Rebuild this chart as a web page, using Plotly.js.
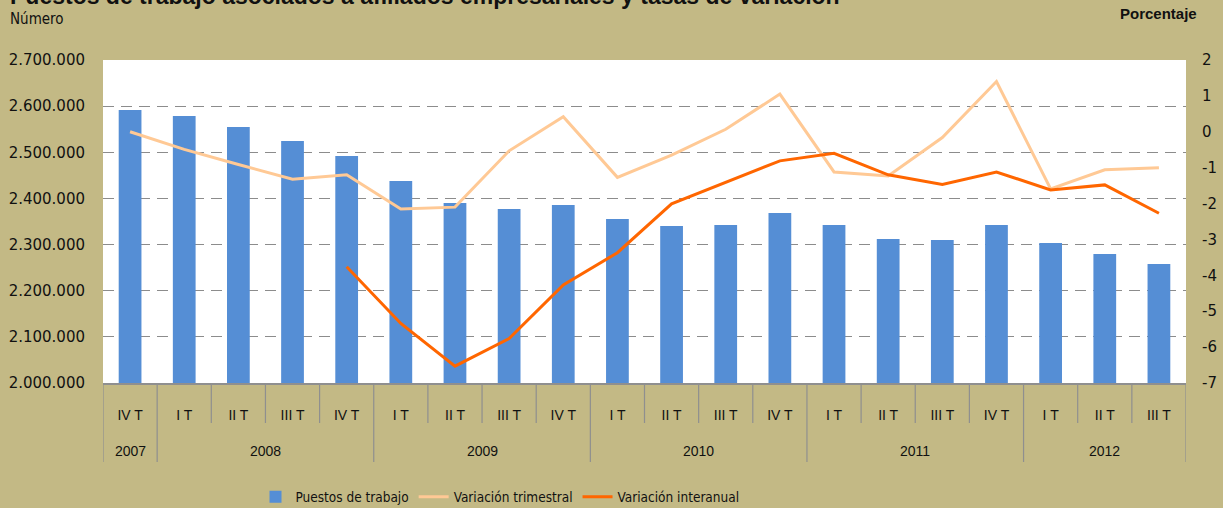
<!DOCTYPE html>
<html>
<head>
<meta charset="utf-8">
<script src="https://cdn.plot.ly/plotly-3.0.1.min.js"></script>
<style>html,body{margin:0;padding:0;background:#C3B985;}#chart{width:1223px;height:508px;}</style>
</head>
<body>
<div id="chart"></div>
<script>
const quarters = ['IV T','I T','II T','III T','IV T','I T','II T','III T','IV T','I T','II T','III T','IV T','I T','II T','III T','IV T','I T','II T','III T'];
const years = ['2007','2008','2008','2008','2008','2009','2009','2009','2009','2010','2010','2010','2010','2011','2011','2011','2011','2012','2012','2012'];
const puestos = [2591600,2578600,2554800,2524500,2492000,2437800,2390100,2377100,2385800,2355400,2340200,2342400,2368400,2342400,2312100,2309900,2342400,2303400,2279600,2257900];
const varTrimestral = [0.0,-0.49,-0.91,-1.32,-1.20,-2.15,-2.10,-0.53,0.42,-1.27,-0.65,0.07,1.05,-1.12,-1.23,-0.16,1.40,-1.59,-1.06,-1.00];
const varInteranual = [null,null,null,null,-3.76,-5.34,-6.53,-5.76,-4.27,-3.37,-2.01,-1.42,-0.81,-0.60,-1.20,-1.47,-1.12,-1.62,-1.48,-2.27];
const pctTickVals = [-7,-6,-5,-4,-3,-2,-1,0,1,2];
const pctTickText = ['-7','-6','-5','-4','-3','-2','-1','0','1','2'];
const titleText = 'Puestos de trabajo asociados a afiliados empresariales y tasas de variación';

const xs = quarters.map((_, i) => i);
const PLOT_H = 323, PLOT_W = 1083, ML = 103;
const narrow = '"DejaVu Sans Condensed", "Liberation Sans Narrow", "Arial Narrow", sans-serif';
const sans = '"Liberation Sans", Arial, sans-serif';

const traces = [
  {type:'bar', x:xs, y:puestos, name:'Puestos de trabajo', width:0.42,
   marker:{color:'#558ED5'}, yaxis:'y'},
  {type:'scatter', mode:'lines', x:xs, y:varTrimestral, name:'Variación trimestral',
   line:{color:'#FFC995', width:3}, yaxis:'y2'},
  {type:'scatter', mode:'lines', x:xs, y:varInteranual, name:'Variación interanual',
   line:{color:'#FF6600', width:3}, yaxis:'y2', connectgaps:false}
];

const shapes = [];
for (let i = 0; i <= quarters.length; i++) {
  const yearBoundary = (i === 0 || i === quarters.length || years[i] !== years[i-1]);
  shapes.push({type:'line', xref:'x', yref:'paper', x0:i-0.5, x1:i-0.5, y0:0,
    y1: yearBoundary ? -79/PLOT_H : -40/PLOT_H, line:{color:'#8F8F8F', width:1.2}, layer:'above'});
}
const annotations = [];
const uniqYears = [...new Set(years)];
uniqYears.forEach(yr => {
  const idx = years.map((v,i)=>v===yr?i:-1).filter(i=>i>=0);
  const c = (idx[0] + idx[idx.length-1]) / 2;
  annotations.push({xref:'x', yref:'paper', x:c, y:-68/PLOT_H, text:yr, showarrow:false,
    font:{family:sans, size:14, color:'#111'}, yanchor:'middle'});
});
annotations.push({xref:'paper', yref:'paper', x:(8-ML)/PLOT_W, y:(383+3.5)/PLOT_H, xanchor:'left', yanchor:'middle',
  text:'<b>'+titleText+'</b>', showarrow:false, font:{family:sans, size:23, color:'#111'}});
annotations.push({xref:'paper', yref:'paper', x:(8-ML)/PLOT_W, y:(383-18.5)/PLOT_H, xanchor:'left', yanchor:'middle',
  text:'Número', showarrow:false, font:{family:narrow, size:15, color:'#111'}});
annotations.push({xref:'paper', yref:'paper', x:(1199-ML)/PLOT_W, y:(383-14)/PLOT_H, xanchor:'right', yanchor:'middle',
  text:'<b>Porcentaje</b>', showarrow:false, font:{family:sans, size:15, color:'#111'}});

const layout = {
  width:1223, height:508,
  margin:{l:103, r:37, t:60, b:125, autoexpand:false},
  paper_bgcolor:'#C3B985', plot_bgcolor:'#FFFFFF',
  separators:',.',
  showlegend:true,
  legend:{orientation:'h', x:(500-ML)/PLOT_W, xanchor:'center', y:-114/PLOT_H, yanchor:'middle',
    font:{family:narrow, size:13.5, color:'#111'}, bgcolor:'rgba(0,0,0,0)', itemwidth:30},
  xaxis:{range:[-0.5, quarters.length-0.5], tickmode:'array', tickvals:xs, ticktext:quarters,
    ticks:'outside', ticklen:19, tickcolor:'rgba(0,0,0,0)', showgrid:false, zeroline:false,
    showline:true, linecolor:'#8F8F8F', linewidth:1.5,
    tickfont:{family:sans, size:14, color:'#111'}, fixedrange:true},
  yaxis:{range:[2000000, 2700000], dtick:100000, tick0:2000000, tickformat:',d',
    ticks:'outside', ticklen:14, tickcolor:'rgba(0,0,0,0)',
    showgrid:true, gridcolor:'#8C8C8C', gridwidth:1, griddash:'11px,7px', zeroline:false,
    tickfont:{family:'"DejaVu Sans", Verdana, sans-serif', size:15, color:'#111'}},
  yaxis2:{overlaying:'y', side:'right', range:[-7, 2], tickmode:'array', tickvals:pctTickVals, ticktext:pctTickText,
    ticks:'outside', ticklen:12, tickcolor:'rgba(0,0,0,0)', showgrid:false, zeroline:false,
    tickfont:{family:'"DejaVu Sans", Verdana, sans-serif', size:15, color:'#111'}},
  shapes:shapes,
  annotations:annotations,
  bargap:0.58
};

Plotly.newPlot('chart', traces, layout, {displayModeBar:false, staticPlot:true});
</script>
</body>
</html>
